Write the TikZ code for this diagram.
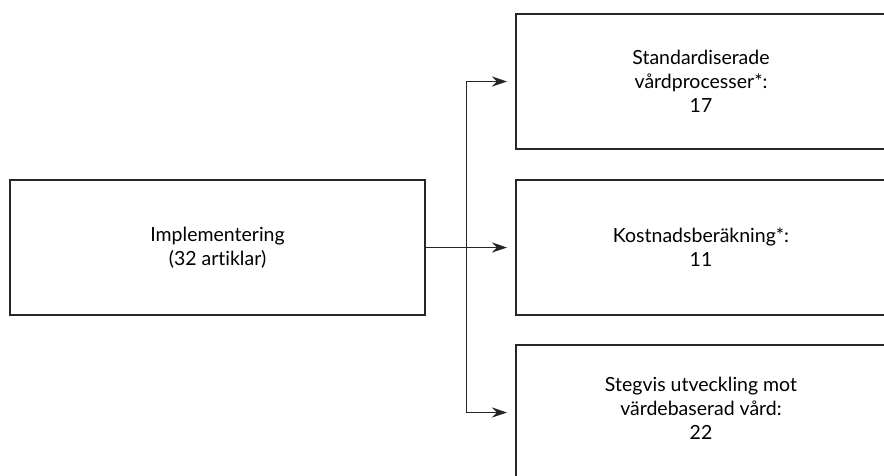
\documentclass[tikz,border=0pt]{standalone}
\usepackage{fontspec}
\setmainfont{Lato}[Ligatures=NoCommon]
\usetikzlibrary{arrows.meta}
\begin{document}
\begin{tikzpicture}[x=1pt,y=-1pt,
  box/.style={draw=black!85,line width=1.1pt,inner sep=0pt,outer sep=0pt,
    minimum height=135pt},
  label text/.style={align=center,inner sep=0pt,font=\fontsize{19.5}{24}\selectfont},
  leftbox/.style={box,label text,minimum width=415pt},
  rightbox/.style={box,label text,minimum width=370pt},
  link/.style={draw=black!85,line width=1pt},
  arr/.style={link,-{Stealth[length=15pt,width=10pt]},shorten >=9pt}]
\useasboundingbox (0,0) rectangle (884,475);
\clip (0,0) rectangle (884,475);
\node[leftbox] (impl) at (217.5,247.5) {Implementering\\(32 artiklar)};
\node[rightbox] (std) at (701,81.5) {Standardiserade\\vårdprocesser*:\\17};
\node[rightbox] (cost) at (701,247.5) {Kostnadsberäkning*:\\11};
\node[box,minimum width=370pt] (stepv) at (701,412.5) {};
\node[label text] (stepvtext) at (701,408) {Stegvis utveckling mot\\värdebaserad vård:\\22};
\coordinate (j) at (466,247.5);
\draw[link] (impl.east) -- (j);
\draw[arr] (j) -- (cost.west);
\draw[arr] (j) |- (std.west);
\draw[arr] (j) |- (stepv.west);
\end{tikzpicture}
\end{document}
